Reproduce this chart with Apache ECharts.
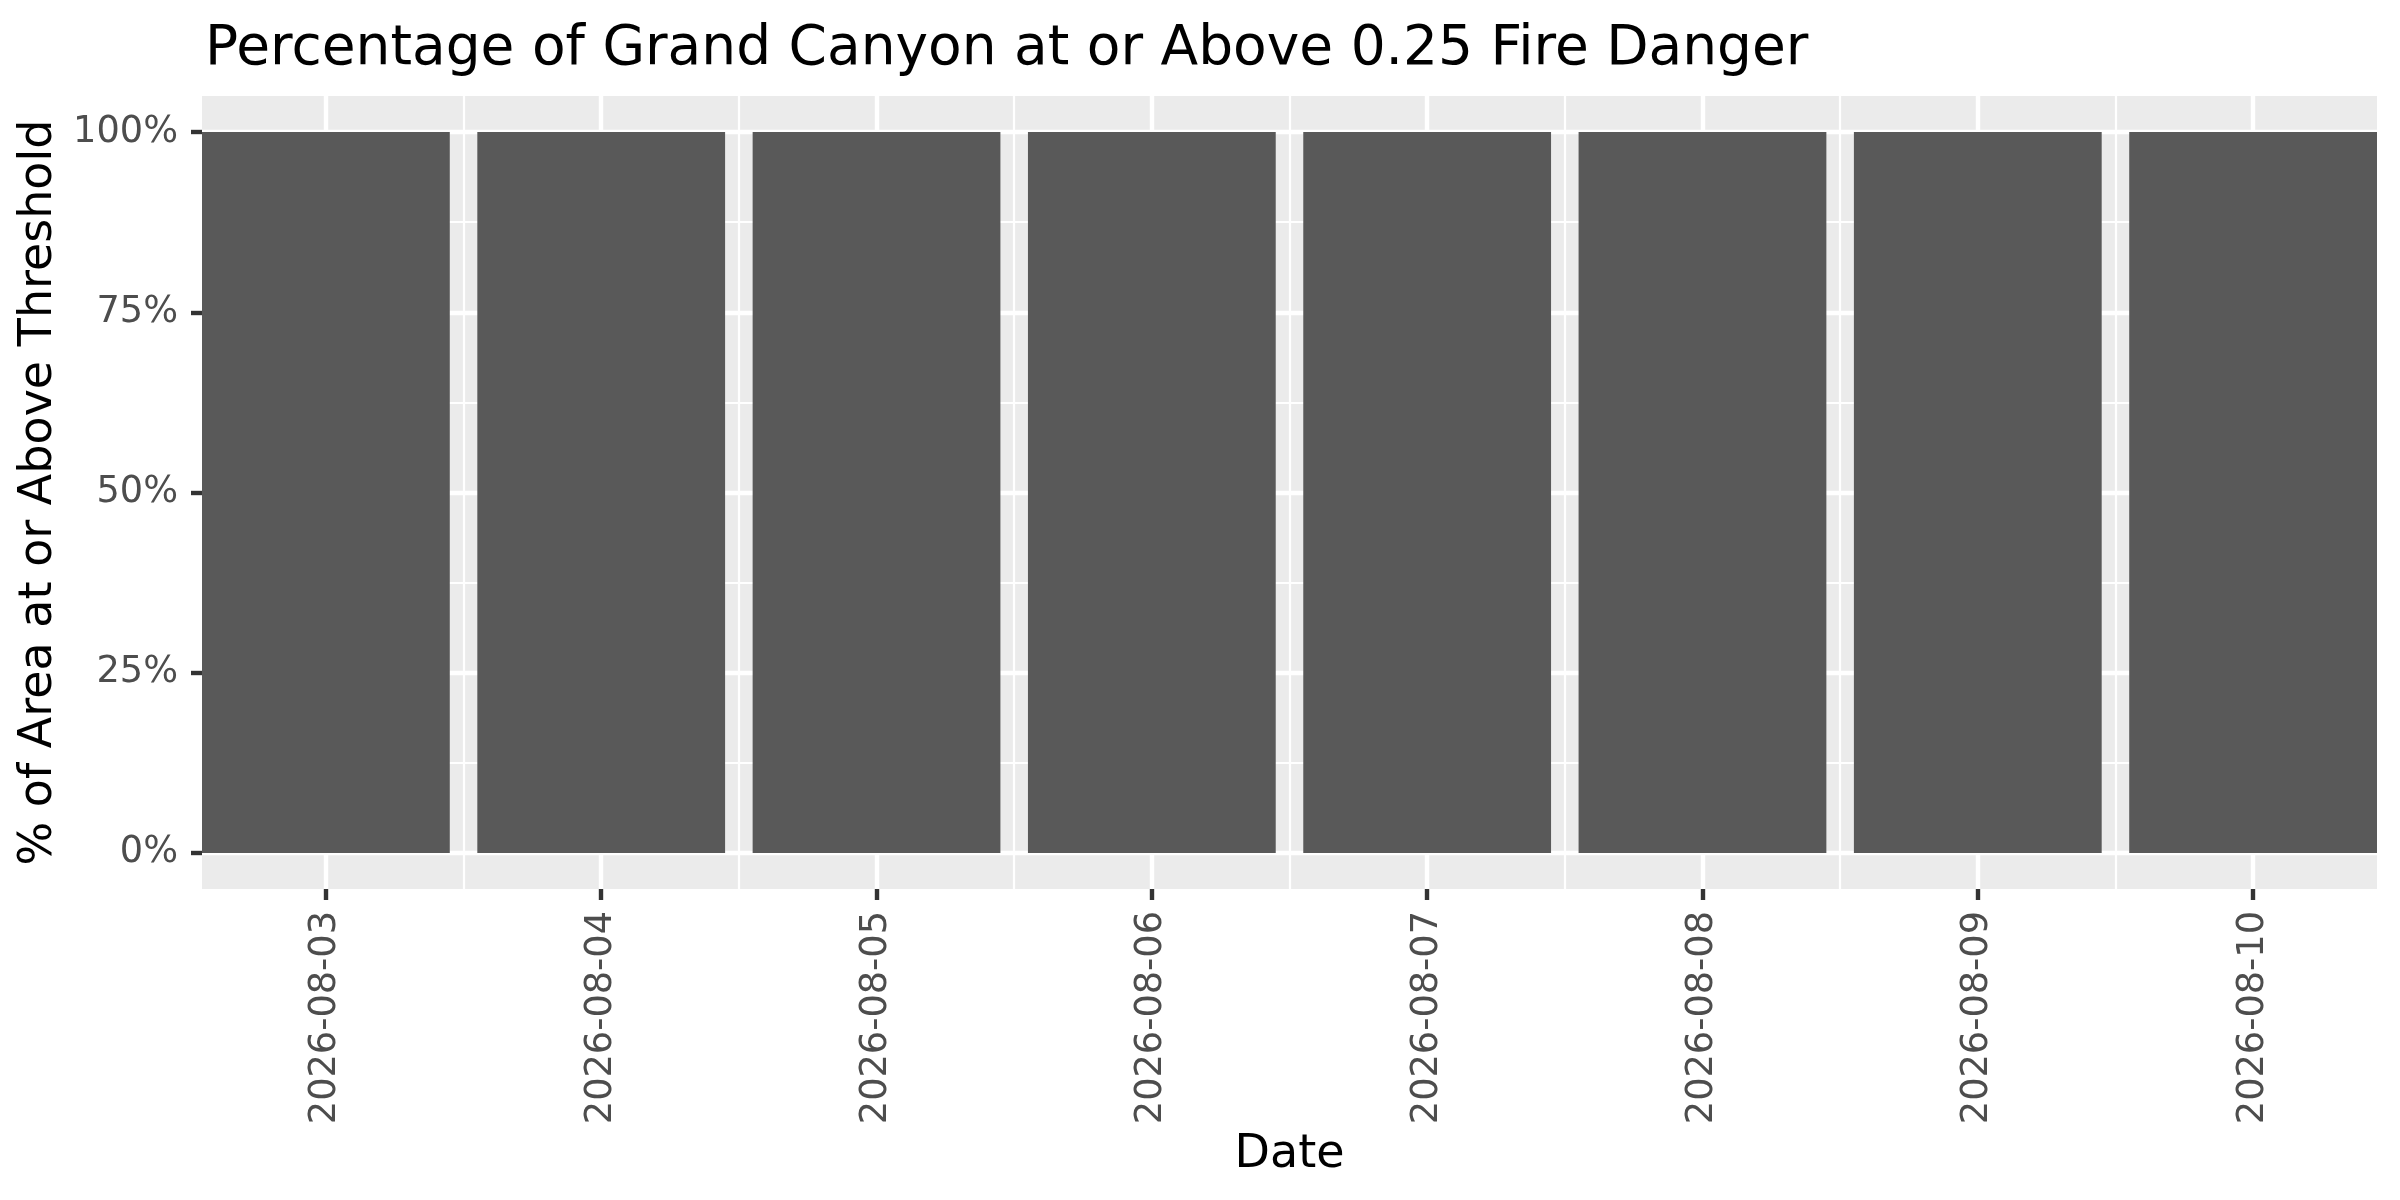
<!DOCTYPE html>
<html>
<head>
<meta charset="utf-8">
<script src="https://cdn.jsdelivr.net/npm/echarts@6/dist/echarts.min.js"></script>
<style>
html,body{margin:0;padding:0;background:#fff;}
#chart{width:2400px;height:1200px;}
</style>
</head>
<body>
<div id="chart"></div>
<script>
// ---- data ----
var dates = ['2026-08-03','2026-08-04','2026-08-05','2026-08-06','2026-08-07','2026-08-08','2026-08-09','2026-08-10'];
var pctAbove = [100, 100, 100, 100, 100, 100, 100, 100];
var yTicks = [0, 25, 50, 75, 100];
var yMinorTicks = [12.5, 37.5, 62.5, 87.5];
var titleText = 'Percentage of Grand Canyon at or Above 0.25 Fire Danger';
var xTitle = 'Date';
var yTitle = '% of Area at or Above Threshold';

var xIdx = dates.map(function (d, i) { return i; });
var xMinor = dates.slice(1).map(function (d, i) { return i + 0.5; });
var barData = dates.map(function (d, i) { return [i, pctAbove[i]]; });

var FONT = 'DejaVu Sans';
var chart = echarts.init(document.getElementById('chart'), null, {renderer: 'canvas'});
chart.setOption({
  backgroundColor: '#ffffff',
  animation: false,
  textStyle: {fontFamily: FONT},
  title: {
    text: titleText,
    left: 200, top: 17,
    textStyle: {fontFamily: FONT, fontSize: 55, fontWeight: 'normal', color: '#000000', lineHeight: 55}
  },
  grid: {
    left: 202, right: 23, top: 96, bottom: 311,
    show: true, backgroundColor: '#EBEBEB', borderWidth: 0
  },
  xAxis: [{
    type: 'value', min: -0.45, max: 7.45, position: 'bottom',
    axisLine: {show: false, onZero: false},
    axisTick: {show: true, length: 11, lineStyle: {color: '#333333', width: 4.4}, customValues: xIdx},
    axisLabel: {
      show: true, customValues: xIdx, rotate: 90, margin: 22,
      fontFamily: FONT, fontSize: 36.7, color: '#4D4D4D',
      formatter: function (v) { return dates[Math.round(v)]; }
    },
    splitLine: {show: true, lineStyle: {color: '#FFFFFF', width: 4.4}},
    name: xTitle, nameLocation: 'middle', nameGap: 240,
    nameTextStyle: {fontFamily: FONT, fontSize: 46, color: '#000000', lineHeight: 46}
  }, {
    type: 'value', min: -0.45, max: 7.45, position: 'top',
    axisLine: {show: false, onZero: false},
    axisTick: {show: false, customValues: xMinor},
    axisLabel: {show: false},
    splitLine: {show: true, lineStyle: {color: '#FFFFFF', width: 2.2}}
  }],
  yAxis: [{
    type: 'value', min: -5, max: 105, position: 'left',
    axisLine: {show: false, onZero: false},
    axisTick: {show: true, length: 11, lineStyle: {color: '#333333', width: 4.4}, customValues: yTicks},
    axisLabel: {
      show: true, customValues: yTicks, margin: 24,
      fontFamily: FONT, fontSize: 36.7, color: '#4D4D4D',
      formatter: function (v) { return v + '%'; }
    },
    splitLine: {show: true, lineStyle: {color: '#FFFFFF', width: 4.4}},
    name: yTitle, nameLocation: 'middle', nameRotate: 90, nameGap: 140,
    nameTextStyle: {fontFamily: FONT, fontSize: 46, color: '#000000', lineHeight: 46}
  }, {
    type: 'value', min: -5, max: 105, position: 'right',
    axisLine: {show: false, onZero: false},
    axisTick: {show: false, customValues: yMinorTicks},
    axisLabel: {show: false},
    splitLine: {show: true, lineStyle: {color: '#FFFFFF', width: 2.2}}
  }],
  series: [{
    type: 'bar',
    xAxisIndex: 0, yAxisIndex: 0,
    data: barData,
    barWidth: '90%',
    itemStyle: {color: '#595959'},
    z: 5
  }]
});
</script>
</body>
</html>
